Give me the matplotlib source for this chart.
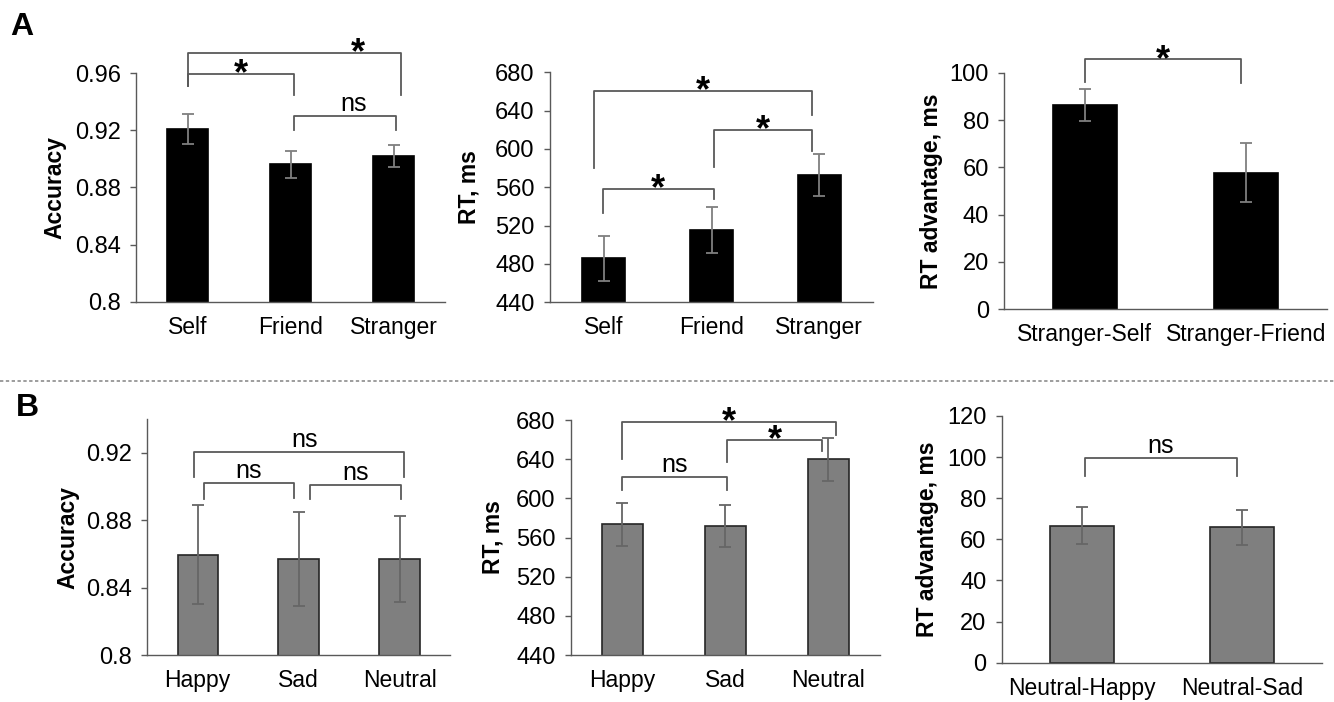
import matplotlib
matplotlib.use('Agg')
import matplotlib.pyplot as plt
from matplotlib.lines import Line2D

plt.rcParams['font.family'] = ['Liberation Sans', 'DejaVu Sans']

# Panel A: self / friend / stranger
a_groups = ['Self', 'Friend', 'Stranger']
a_acc = [0.921, 0.896, 0.902]
a_acc_err = [0.0105, 0.0095, 0.0075]
a_rt = [486, 515, 573]
a_rt_err = [23.5, 24, 22]
a_adv_groups = ['Stranger-Self', 'Stranger-Friend']
a_adv = [86.2, 57.7]
a_adv_err = [6.8, 12.5]

# Panel B: happy / sad / neutral
b_groups = ['Happy', 'Sad', 'Neutral']
b_acc = [0.8596, 0.857, 0.857]
b_acc_err = [0.0295, 0.028, 0.0255]
b_rt = [573.5, 572, 640]
b_rt_err = [22, 21.5, 22]
b_adv_groups = ['Neutral-Happy', 'Neutral-Sad']
b_adv = [66.5, 65.9]
b_adv_err = [9, 8.5]

acc_ticks_a = [0.8, 0.84, 0.88, 0.92, 0.96]
acc_ticks_b = [0.8, 0.84, 0.88, 0.92]
rt_ticks = [440, 480, 520, 560, 600, 640, 680]
adv_ticks_a = [0, 20, 40, 60, 80, 100]
adv_ticks_b = [0, 20, 40, 60, 80, 100, 120]

# significance brackets: (x1, x2, top, leg1 end, leg2 end, label, text x)
a_acc_sig = [(0.0, 2.07, 0.974, 0.951, 0.9446, '*', 1.65),
             (0.0, 1.03, 0.9593, 0.951, 0.9446, '*', None),
             (1.03, 2.02, 0.930, 0.920, 0.920, 'ns', 1.61)]
a_rt_sig = [(-0.09, 1.93, 660.5, 580.5, 635.4, '*', None),
            (1.02, 1.93, 620, 581.5, 598, '*', None),
            (-0.01, 1.02, 558.5, 533, 547.8, '*', None)]
a_adv_sig = [(0.0, 0.97, 105.6, 96.2, 95.7, '*', None)]
b_acc_sig = [(-0.04, 2.04, 0.9208, 0.9056, 0.906, 'ns', 1.06),
             (0.06, 0.95, 0.902, 0.8928, 0.893, 'ns', None),
             (1.11, 2.01, 0.901, 0.8925, 0.8925, 'ns', None)]
b_rt_sig = [(0.0, 2.07, 678.3, 640, 664.7, '*', None),
            (1.02, 1.935, 659.6, 637.4, 648.6, '*', None),
            (0.0, 1.02, 622, 608.5, 608.5, 'ns', None)]
b_adv_sig = [(0.02, 0.97, 99.4, 90.8, 90.8, 'ns', None)]

W, H = 1334, 702
fig = plt.figure(figsize=(W / 100, H / 100), dpi=100)


def make_ax(left, right, top, bottom):
    return fig.add_axes([left / W, 1 - bottom / H, (right - left) / W, (bottom - top) / H])


def draw_panel(ax, groups, vals, errs, ylim, ticks, ylabel, label_x, color, edge, ecolor, sig):
    x = list(range(len(groups)))
    ax.bar(x, vals, width=0.4, color=color, edgecolor=edge, linewidth=1.2, zorder=2)
    ax.errorbar(x, vals, yerr=errs, fmt='none', ecolor=ecolor, elinewidth=1.3,
                capsize=4, capthick=1.3, zorder=3)
    ax.set_xlim(-0.5, len(groups) - 0.5)
    ax.set_ylim(*ylim)
    ax.set_yticks(ticks)
    ax.set_yticklabels([f'{t:g}' for t in ticks])
    ax.set_xticks(x)
    ax.set_xticklabels(groups)
    ax.tick_params(axis='y', length=4, width=1, color='#595959', pad=7, labelsize=17)
    ax.tick_params(axis='x', length=0, pad=10, labelsize=16.5)
    for s in ['top', 'right']:
        ax.spines[s].set_visible(False)
    for s in ['left', 'bottom']:
        ax.spines[s].set_color('#595959')
        ax.spines[s].set_linewidth(1)
    ax.set_ylabel(ylabel, fontsize=16.5, fontweight='bold', va='center')
    ax.yaxis.set_label_coords(label_x, 0.5)

    for x1, x2, top, e1, e2, lab, tx in sig:
        ax.add_line(Line2D([x1, x1, x2, x2], [e1, top, top, e2], color='#595959',
                           lw=1.3, clip_on=False))
        if tx is None:
            tx = (x1 + x2) / 2
        if lab == '*':
            ax.annotate(lab, (tx, top), xytext=(0, -7.5), textcoords='offset points',
                        ha='center', va='baseline', fontsize=26, fontweight='bold',
                        annotation_clip=False)
        else:
            ax.annotate(lab, (tx, top), xytext=(0, 3.5), textcoords='offset points',
                        ha='center', va='baseline', fontsize=18, annotation_clip=False)


ax = make_ax(136, 445, 73, 301.7)
draw_panel(ax, a_groups, a_acc, a_acc_err, (0.8, 0.96), acc_ticks_a, 'Accuracy', -0.262,
           'black', 'black', '#7f7f7f', a_acc_sig)
ax = make_ax(550, 873, 72.3, 302.3)
draw_panel(ax, a_groups, a_rt, a_rt_err, (440, 680), rt_ticks, 'RT, ms', -0.25,
           'black', 'black', '#7f7f7f', a_rt_sig)
ax = make_ax(1004.3, 1326.7, 72.7, 309.3)
draw_panel(ax, a_adv_groups, a_adv, a_adv_err, (0, 100), adv_ticks_a, 'RT advantage, ms', -0.2255,
           'black', 'black', '#7f7f7f', a_adv_sig)

ax = make_ax(147.3, 450, 419.3, 655)
draw_panel(ax, b_groups, b_acc, b_acc_err, (0.8, 0.94), acc_ticks_b, 'Accuracy', -0.261,
           '#7f7f7f', '#262626', '#666666', b_acc_sig)
ax = make_ax(570.7, 880, 420, 655)
draw_panel(ax, b_groups, b_rt, b_rt_err, (440, 680), rt_ticks, 'RT, ms', -0.25,
           '#7f7f7f', '#262626', '#666666', b_rt_sig)
ax = make_ax(1001.7, 1321.7, 416, 662.7)
draw_panel(ax, b_adv_groups, b_adv, b_adv_err, (0, 120), adv_ticks_b, 'RT advantage, ms', -0.231,
           '#7f7f7f', '#262626', '#666666', b_adv_sig)

# panel letters and separator
fig.text(22 / W, 1 - 27 / H, 'A', fontsize=23, fontweight='bold', ha='center', va='center')
fig.text(27 / W, 1 - 408 / H, 'B', fontsize=23, fontweight='bold', ha='center', va='center')
fig.add_artist(Line2D([0, 1], [1 - 381 / H, 1 - 381 / H], color='#8c8c8c', lw=1.2,
                      linestyle=(0, (2, 1.5))))

fig.savefig('out.png', dpi=100)
